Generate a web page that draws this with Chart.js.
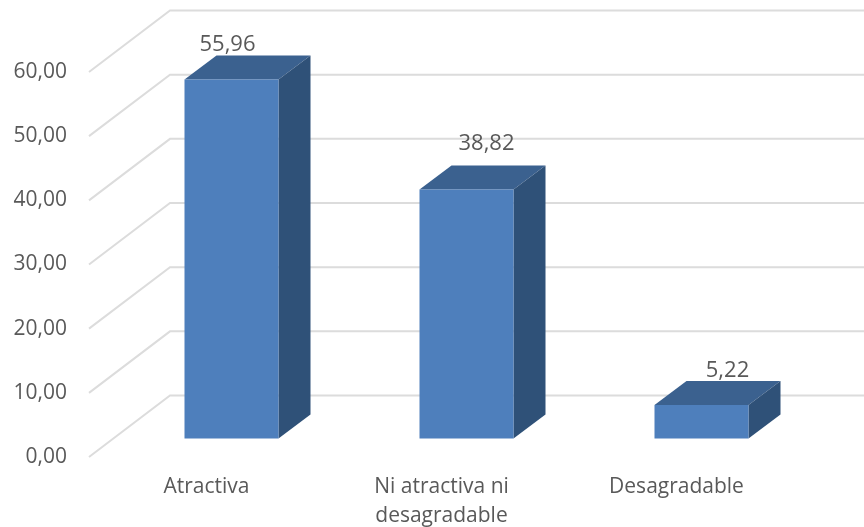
<!DOCTYPE html>
<html>
<head>
<meta charset="utf-8">
<style>
  html, body { margin: 0; padding: 0; background: #fff; }
  canvas { display: block; }
</style>
<script src="https://cdn.jsdelivr.net/npm/chart.js@4"></script>
</head>
<body>
<canvas id="chart" width="864" height="527"></canvas>
<script>
"use strict";

const categories = ["Atractiva", ["Ni atractiva ni", "desagradable"], "Desagradable"];
const values = [55.96, 38.82, 5.22];
const yTicks = [0, 10, 20, 30, 40, 50, 60];

// ---- 3D look: offsets in px, Chart.js has no 3D bars ----
const WALL = { dx: 81, dy: -61.5 };    // back wall relative to the axis plane
const BAR = { dx: 25, dy: -18.5 };     // bar front relative to the axis plane
const DEPTH = { dx: 32, dy: -24 };     // bar depth
const LABEL_SHIFT = [[-4, -35], [20, -46], [26, -34]];  // labels were moved by hand in the original

const FONT = '"Open Sans", sans-serif';
const TEXT = "#595959";

const fmt = v => v.toFixed(2).replace(".", ",");

const walls = {
  id: "walls",
  beforeDatasetsDraw(chart) {
    const { ctx, chartArea, scales: { y } } = chart;
    ctx.save();
    ctx.strokeStyle = "#dcdcdc";
    ctx.lineWidth = 2;
    for (const t of yTicks) {
      const py = y.getPixelForValue(t);
      ctx.beginPath();
      ctx.moveTo(chartArea.left, py);
      ctx.lineTo(chartArea.left + WALL.dx, py + WALL.dy);
      ctx.lineTo(chartArea.right + WALL.dx, py + WALL.dy);
      ctx.stroke();
    }
    ctx.restore();

    // top and side faces sit behind the front face
    const bars = chart.getDatasetMeta(0).data;
    ctx.save();
    ctx.translate(BAR.dx, BAR.dy);
    for (const b of bars) {
      const l = b.x - b.width / 2, r = b.x + b.width / 2;
      ctx.fillStyle = "#3b618f";
      ctx.beginPath();
      ctx.moveTo(l, b.y);
      ctx.lineTo(l + DEPTH.dx, b.y + DEPTH.dy);
      ctx.lineTo(r + DEPTH.dx, b.y + DEPTH.dy);
      ctx.lineTo(r, b.y);
      ctx.closePath();
      ctx.fill();
      ctx.fillStyle = "#2f5178";
      ctx.beginPath();
      ctx.moveTo(r, b.y);
      ctx.lineTo(r + DEPTH.dx, b.y + DEPTH.dy);
      ctx.lineTo(r + DEPTH.dx, b.base + DEPTH.dy);
      ctx.lineTo(r, b.base);
      ctx.closePath();
      ctx.fill();
    }
    // left on for the front faces, restored in afterDatasetsDraw
  },
  afterDatasetsDraw(chart) {
    const { ctx } = chart;
    ctx.restore();
    ctx.save();
    ctx.font = `22px ${FONT}`;
    ctx.fillStyle = TEXT;
    ctx.textAlign = "center";
    ctx.textBaseline = "middle";
    chart.getDatasetMeta(0).data.forEach((b, i) => {
      const [sx, sy] = LABEL_SHIFT[i];
      ctx.fillText(fmt(values[i]), b.x + BAR.dx + sx, b.y + BAR.dy + sy);
    });
    ctx.restore();
  },
};

new Chart(document.getElementById("chart"), {
  type: "bar",
  data: {
    labels: categories,
    datasets: [{
      data: values,
      backgroundColor: "#4e7fbc",
      borderWidth: 0,
      barPercentage: 0.4,
      categoryPercentage: 1,
      clip: false,
    }],
  },
  options: {
    responsive: false,
    animation: false,
    layout: { padding: { top: 72, right: 70, bottom: 0, left: 0 } },
    plugins: { legend: { display: false }, tooltip: { enabled: false } },
    scales: {
      x: {
        grid: { display: false },
        border: { display: false },
        ticks: { color: TEXT, font: { family: FONT, size: 21, lineHeight: 1.4 }, padding: 7, maxRotation: 0, autoSkip: false },
        afterFit(s) { s.height = 70; },
      },
      y: {
        min: 0,
        max: 60,
        afterBuildTicks(s) { s.ticks = yTicks.map(value => ({ value })); },
        grid: { display: false },
        border: { display: false },
        ticks: { color: TEXT, font: { family: FONT, size: 21 }, padding: 14, callback: fmt },
        afterFit(s) { s.width = 89; },
      },
    },
  },
  plugins: [walls],
});
</script>
</body>
</html>
